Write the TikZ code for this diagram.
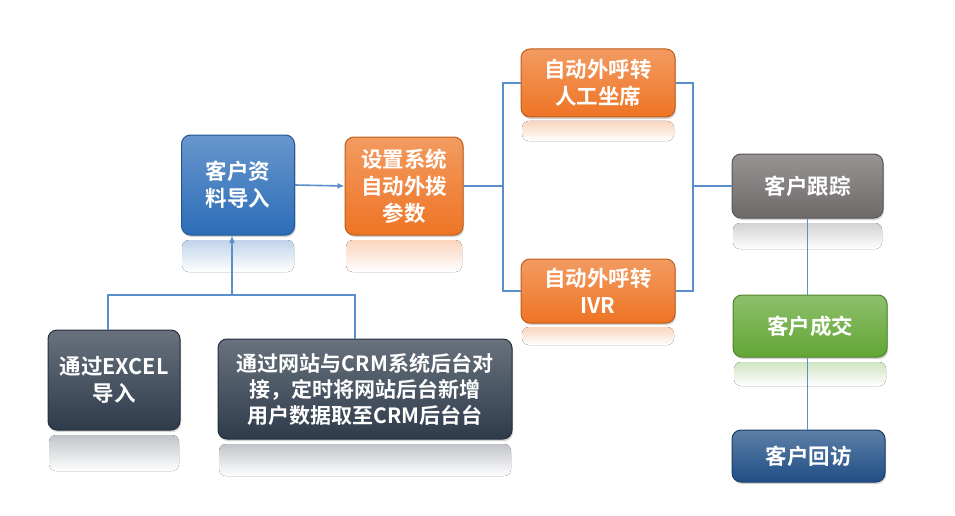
\documentclass[tikz,border=0pt]{standalone}
\usepackage{fontspec}
\newfontfamily\cjk[BoldFont={Noto Sans CJK SC Bold}]{Noto Sans CJK SC}
\usetikzlibrary{arrows.meta,shadows,calc}
\definecolor{lineblue}{HTML}{5B8FCB}
\tikzset{
  flowbox/.style={rounded corners=9pt, line width=1pt, text=white, font=\cjk\bfseries\fontsize{21.5}{27}\selectfont,
    align=center, inner sep=0pt, drop shadow={shadow xshift=1pt, shadow yshift=-2pt, opacity=0.35}},
  bluebox/.style={flowbox, draw=#1!80!black, top color=#1!72!white, bottom color=#1},
  conn/.style={draw=lineblue, line width=1.6pt},
  refl/.style={top color=#1!30!white, bottom color=white, draw=none}
}
\definecolor{cimport}{HTML}{2C6DB8}
\definecolor{corange}{HTML}{EE7424}
\definecolor{cgray}{HTML}{6E6A69}
\definecolor{cgreen}{HTML}{62A634}
\definecolor{cvisit}{HTML}{1F4E85}
\definecolor{cslate}{HTML}{2E3B4B}
\begin{document}
\begin{tikzpicture}[x=1pt,y=-1pt]
\useasboundingbox[fill=white] (0,0) rectangle (955,516);
% reflections
\foreach \l/\r/\t/\h/\c in {182/294/240/32/cimport, 346/462/240/32/corange, 522/674/121/20/corange, 522/674/327/18/corange, 733/882/223/26/cgray, 734/886/362/24/cgreen, 49/179/435/36/cslate, 219/511/444/32/cslate}
  \fill[refl=\c, rounded corners=7pt] (\l,\t) rectangle (\r,\t+\h);
% nodes
\node[bluebox=cimport, minimum width=113pt, minimum height=100pt] (imp) at (238,185) {客户资\\料导入};
\node[bluebox=corange, minimum width=118pt, minimum height=98pt] (par) at (404,186) {设置系统\\自动外拨\\参数};
\node[bluebox=corange, minimum width=154pt, minimum height=68pt] (seat) at (598,83) {自动外呼转\\人工坐席};
\node[bluebox=corange, minimum width=154pt, minimum height=64pt] (ivr) at (598,291) {自动外呼转\\IVR};
\node[bluebox=cgray, minimum width=151pt, minimum height=64pt] (track) at (807.5,186) {客户跟踪};
\node[bluebox=cgreen, minimum width=154pt, minimum height=62pt] (deal) at (810,326) {客户成交};
\node[bluebox=cvisit, minimum width=153pt, minimum height=52pt] (visit) at (808.5,456) {客户回访};
\node[bluebox=cslate, minimum width=132pt, minimum height=100pt] (excel) at (114,380) {通过EXCEL\\导入};
\node[bluebox=cslate, minimum width=294pt, minimum height=100pt, font=\cjk\bfseries\fontsize{21}{26}\selectfont] (crm) at (365,389) {通过网站与CRM系统后台对\\接，定时将网站后台新增\\用户数据取至CRM后台台};
% connectors
\coordinate (jl) at (503,186);
\coordinate (jr) at (693,186);
\coordinate (bl) at (108,295);
\coordinate (br) at (355,295);
\coordinate (bm) at (232,295);
\draw[conn, -{Latex[length=7pt,width=6pt]}] (imp.east) -- (par.west);
\draw[conn] (par.east) -- (jl);
\draw[conn] (seat.west) -- (seat.west -| jl) -- (ivr.west -| jl) -- (ivr.west);
\draw[conn] (seat.east) -- (seat.east -| jr) -- (ivr.east -| jr) -- (ivr.east);
\draw[conn] (jr) -- (track.west);
\draw[conn] (track.south) -- (track.south |- deal.north);
\draw[conn] (deal.south -| track.south) -- (visit.north -| track.south);
\draw[conn] (bl |- excel.north) -- (bl) -- (br) -- (br |- crm.north);
\draw[conn, -{Latex[length=7pt,width=6pt]}] (bm) -- (bm |- imp.south);
\end{tikzpicture}
\end{document}
